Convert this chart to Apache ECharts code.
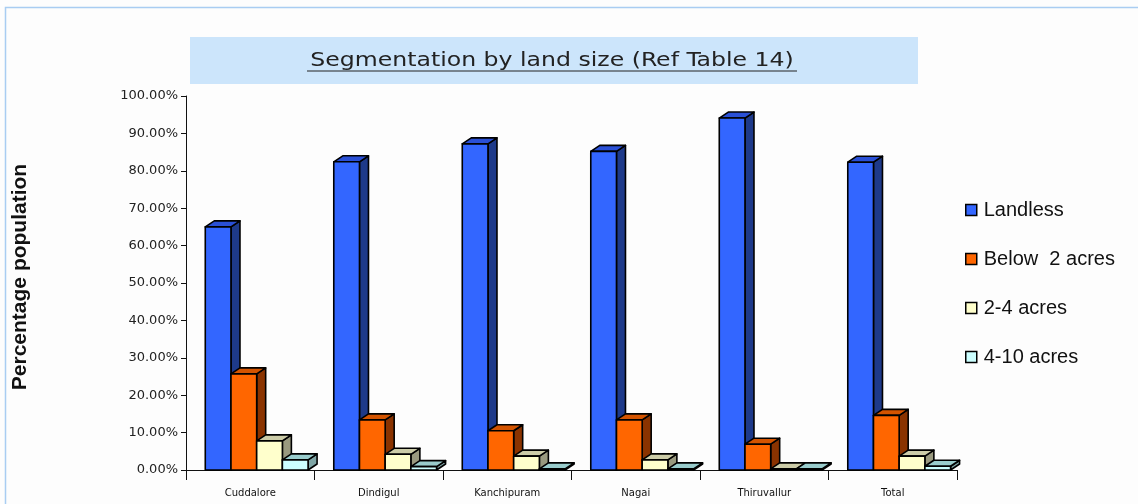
<!DOCTYPE html>
<html>
<head>
<meta charset="utf-8">
<script src="https://cdn.jsdelivr.net/npm/echarts@6/dist/echarts.min.js"></script>
<style>
  html, body { margin: 0; padding: 0; background: #fdfdfd; }
  #chart { width: 1138px; height: 504px; }
</style>
</head>
<body>
<div id="chart"></div>
<script>
// data (percent)
var districts = ['Cuddalore', 'Dindigul', 'Kanchipuram', 'Nagai', 'Thiruvallur', 'Total'];
var landless = [65.0, 82.4, 87.2, 85.2, 94.1, 82.3];
var below2 = [25.7, 13.4, 10.5, 13.4, 6.9, 14.6];
var acres2to4 = [7.8, 4.2, 3.7, 2.7, 0.3, 3.7];
var acres4to10 = [2.7, 0.9, 0.3, 0.3, 0.3, 1.0];
var yTicks = [0, 10, 20, 30, 40, 50, 60, 70, 80, 90, 100];

var chart = echarts.init(document.getElementById('chart'));

// colours: front, top, side
var looks = [
    { name: 'Landless', front: '#3366ff', top: '#2a50d6', side: '#1e3a8a' },
    { name: 'Below  2 acres', front: '#ff6600', top: '#d45400', side: '#8a3300' },
    { name: '2-4 acres', front: '#ffffcc', top: '#cccca8', side: '#99997f' },
    { name: '4-10 acres', front: '#ccffff', top: '#99cccc', side: '#7fa5a5' }
];
var values = [landless, below2, acres2to4, acres4to10];

// 3d-ish column drawn from the axis coordinates
function box(idx) {
    return function (params, api) {
        var cat = api.value(0);
        var v = api.value(1);
        var base = api.coord([cat, 0]);
        var top = api.coord([cat, v]);
        var band = api.size([1, 0])[0];
        var bw = band * 0.2;
        var x0 = base[0] - band * 0.35 + idx * bw;
        var dx = 9, dy = 6;
        var lk = looks[idx];
        var stroke = { stroke: '#000', lineWidth: 1.6, lineJoin: 'round' };
        return {
            type: 'group',
            children: [
                {
                    type: 'polygon',
                    shape: { points: [[x0 + bw, top[1]], [x0 + bw + dx, top[1] - dy], [x0 + bw + dx, base[1] - dy], [x0 + bw, base[1]]] },
                    style: Object.assign({ fill: lk.side }, stroke)
                },
                {
                    type: 'polygon',
                    shape: { points: [[x0, top[1]], [x0 + dx, top[1] - dy], [x0 + bw + dx, top[1] - dy], [x0 + bw, top[1]]] },
                    style: Object.assign({ fill: lk.top }, stroke)
                },
                {
                    type: 'rect',
                    shape: { x: x0, y: top[1], width: bw, height: base[1] - top[1] },
                    style: Object.assign({ fill: lk.front }, stroke)
                }
            ]
        };
    };
}

var series = looks.map(function (lk, i) {
    return {
        name: lk.name,
        type: 'custom',
        renderItem: box(i),
        clip: false,
        itemStyle: { color: lk.front },
        encode: { x: 0, y: 1 },
        data: values[i].map(function (v, j) { return [j, v]; })
    };
});

var option = {
    backgroundColor: '#fdfdfd',
    animation: false,
    graphic: [
        {
            type: 'rect',
            shape: { x: 5.5, y: 7.5, width: 1200, height: 600 },
            style: { fill: 'none', stroke: '#a9cdf2', lineWidth: 1.5 }
        },
        {
            type: 'rect',
            shape: { x: 190, y: 37, width: 728, height: 47 },
            style: { fill: '#cce5fb' }
        },
        {
            type: 'text',
            x: 552, y: 61,
            scaleX: 1.38,
            style: {
                text: 'Segmentation by land size (Ref Table 14)',
                fill: '#222',
                font: '19px "DejaVu Sans Condensed", "Liberation Sans Narrow", sans-serif',
                align: 'center', verticalAlign: 'middle'
            }
        },
        {
            type: 'line',
            shape: { x1: 307, y1: 71, x2: 797, y2: 71 },
            style: { stroke: '#222', lineWidth: 1 }
        },
        {
            type: 'text',
            x: 20, y: 277,
            rotation: Math.PI / 2,
            style: {
                text: 'Percentage population',
                fill: '#111',
                font: 'bold 21px "Liberation Sans", Arial, sans-serif',
                align: 'center', verticalAlign: 'middle'
            }
        }
    ],
    legend: {
        orient: 'vertical',
        left: 960,
        top: 195,
        itemGap: 29,
        itemWidth: 11,
        itemHeight: 11,
        icon: 'rect',
        itemStyle: { borderColor: '#000', borderWidth: 1.5 },
        textStyle: { fontSize: 20, color: '#111', fontFamily: '"Liberation Sans", Arial, sans-serif', padding: [0, 0, 0, 2] },
        data: looks.map(function (l) { return l.name; })
    },
    grid: { left: 186, right: 181, top: 96, bottom: 34 },
    xAxis: {
        type: 'category',
        data: districts,
        axisLine: { lineStyle: { color: '#111', width: 1 } },
        axisTick: { show: true, length: 10, lineStyle: { color: '#111' } },
        axisLabel: { interval: 0, fontSize: 10, color: '#111', margin: 18, fontFamily: '"DejaVu Sans", sans-serif' },
        splitLine: { show: false }
    },
    yAxis: {
        type: 'value',
        min: 0,
        max: 100,
        interval: 10,
        axisLine: { show: true, lineStyle: { color: '#111', width: 1 } },
        axisTick: { show: true, length: 5, lineStyle: { color: '#111' } },
        axisLabel: {
            fontSize: 13, color: '#222', margin: 8,
            fontFamily: '"DejaVu Sans", sans-serif',
            formatter: function (v) { return yTicks.indexOf(v) >= 0 ? v.toFixed(2) + '%' : ''; }
        },
        splitLine: { show: false }
    },
    series: series
};

chart.setOption(option);
</script>
</body>
</html>
